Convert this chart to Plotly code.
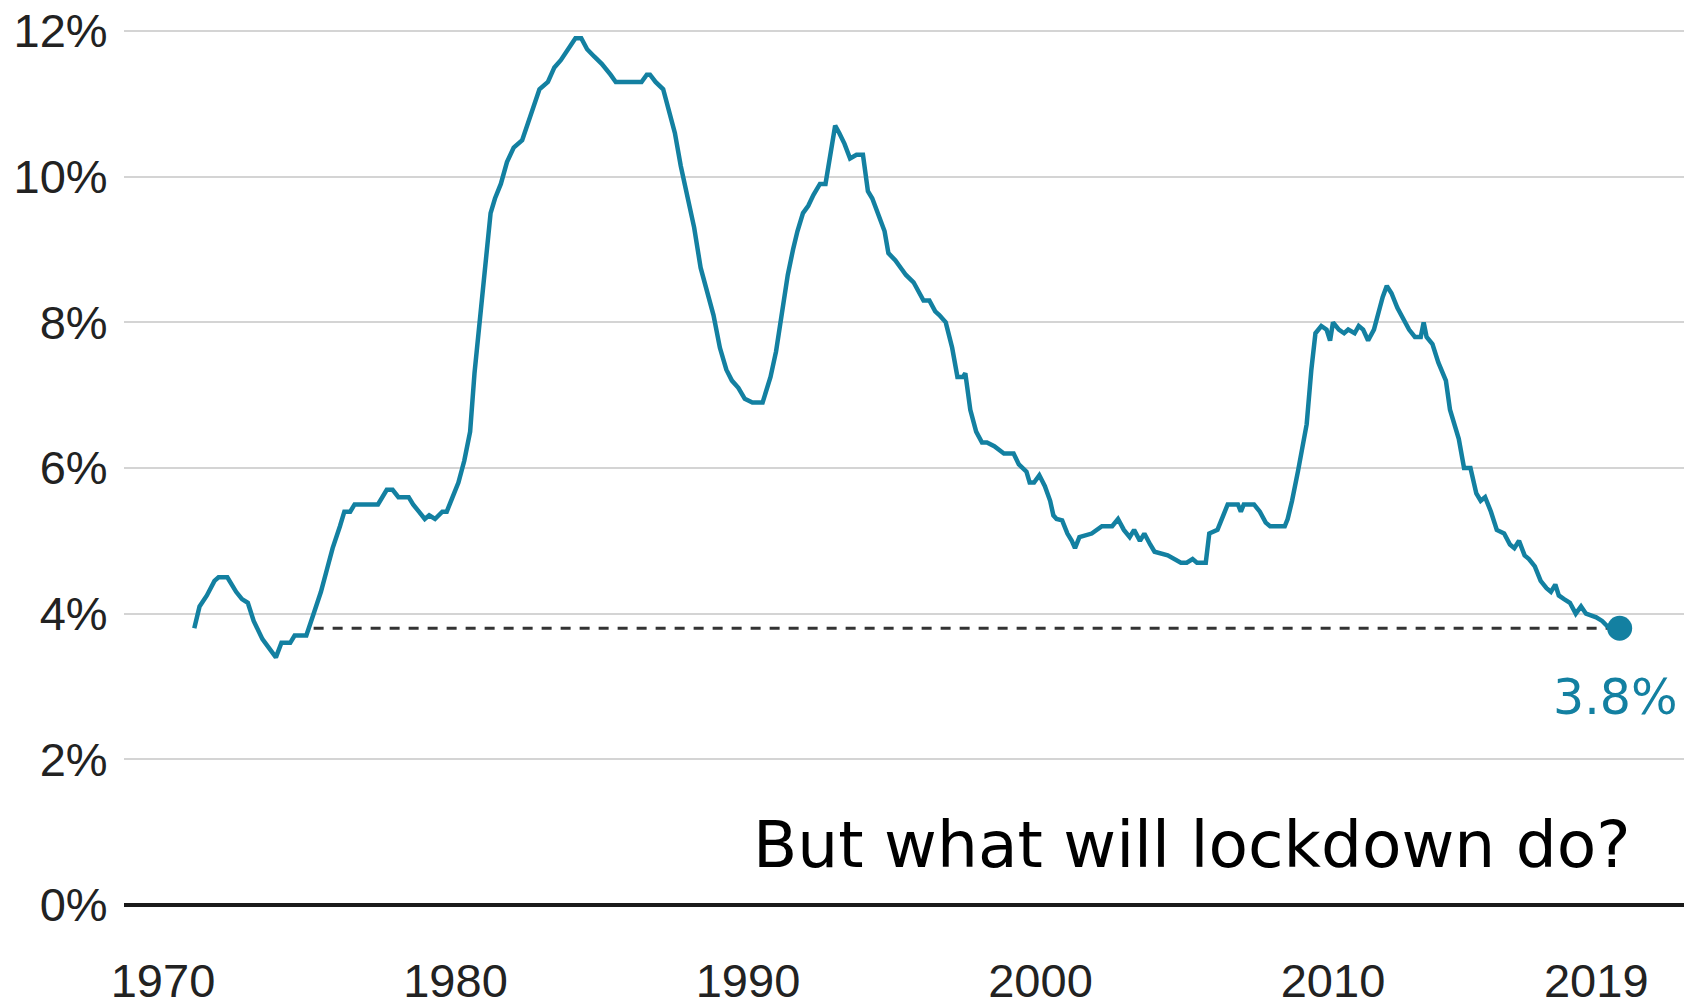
import plotly.graph_objects as go

# UK unemployment rate, % of the economically active (decimal year, rate)
years = [
    1971.07, 1971.25, 1971.50, 1971.76, 1971.90, 1972.20, 1972.50, 1972.70, 1972.90, 1973.10,
    1973.40, 1973.65, 1973.86, 1974.05, 1974.35, 1974.50, 1974.90, 1975.15, 1975.40, 1975.60,
    1975.80, 1976.05, 1976.20, 1976.40, 1976.55, 1977.35, 1977.55, 1977.65, 1977.85, 1978.05,
    1978.40, 1978.55, 1978.75, 1978.95, 1979.10, 1979.30, 1979.55, 1979.70, 1979.90, 1980.10,
    1980.30, 1980.50, 1980.65, 1980.85, 1981.05, 1981.20, 1981.35, 1981.55, 1981.76, 1981.99,
    1982.28, 1982.40, 1982.68, 1982.87, 1983.16, 1983.38, 1983.60, 1983.86, 1984.10, 1984.30,
    1984.50, 1984.74, 1985.00, 1985.30, 1985.48, 1986.36, 1986.54, 1986.65, 1986.84, 1987.10,
    1987.28, 1987.50, 1987.70, 1987.94, 1988.16, 1988.38, 1988.60, 1988.82, 1989.04, 1989.26,
    1989.45, 1989.67, 1989.89, 1990.15, 1990.50, 1990.77, 1990.96, 1991.14, 1991.36, 1991.54,
    1991.69, 1991.88, 1992.06, 1992.24, 1992.46, 1992.65, 1992.83, 1992.98, 1993.12, 1993.30,
    1993.49, 1993.71, 1993.93, 1994.10, 1994.25, 1994.45, 1994.67, 1994.80, 1995.04, 1995.22,
    1995.40, 1995.66, 1995.85, 1996.00, 1996.20, 1996.40, 1996.54, 1996.76, 1996.98, 1997.16,
    1997.35, 1997.43, 1997.60, 1997.80, 1998.00, 1998.17, 1998.42, 1998.60, 1998.75, 1999.08,
    1999.26, 1999.52, 1999.63, 1999.78, 1999.96, 2000.15, 2000.33, 2000.44, 2000.55, 2000.74,
    2000.92, 2001.07, 2001.18, 2001.33, 2001.75, 2002.10, 2002.45, 2002.65, 2002.85, 2003.05,
    2003.20, 2003.40, 2003.55, 2003.75, 2003.90, 2004.35, 2004.55, 2004.80, 2005.00, 2005.20,
    2005.35, 2005.65, 2005.77, 2006.05, 2006.25, 2006.40, 2006.75, 2006.85, 2006.95, 2007.30,
    2007.50, 2007.70, 2007.85, 2008.35, 2008.45, 2008.60, 2008.80, 2008.95, 2009.10, 2009.26,
    2009.40, 2009.60, 2009.78, 2009.90, 2010.00, 2010.20, 2010.38, 2010.52, 2010.74, 2010.88,
    2011.03, 2011.20, 2011.40, 2011.60, 2011.70, 2011.84, 2012.00, 2012.20, 2012.40, 2012.60,
    2012.80, 2013.00, 2013.10, 2013.20, 2013.40, 2013.60, 2013.86, 2014.00, 2014.30, 2014.48,
    2014.70, 2014.90, 2015.05, 2015.20, 2015.40, 2015.60, 2015.85, 2016.05, 2016.20, 2016.36,
    2016.55, 2016.70, 2016.90, 2017.10, 2017.30, 2017.45, 2017.60, 2017.72, 2017.90, 2018.10,
    2018.30, 2018.48, 2018.65, 2019.00, 2019.20, 2019.45, 2019.80,
]
rate = [
    3.8, 4.1, 4.25, 4.45, 4.5, 4.5, 4.3, 4.2, 4.15, 3.9,
    3.65, 3.5, 3.4, 3.6, 3.6, 3.7, 3.7, 4.0, 4.3, 4.6,
    4.9, 5.2, 5.4, 5.4, 5.5, 5.5, 5.65, 5.7, 5.7, 5.6,
    5.6, 5.5, 5.4, 5.3, 5.35, 5.3, 5.4, 5.4, 5.6, 5.8,
    6.1, 6.5, 7.3, 8.15, 8.9, 9.5, 9.7, 9.9, 10.2, 10.4,
    10.5, 10.65, 10.95, 11.2, 11.3, 11.5, 11.6, 11.75, 11.9, 11.9,
    11.75, 11.65, 11.55, 11.4, 11.3, 11.3, 11.4, 11.4, 11.3, 11.2,
    10.95, 10.6, 10.15, 9.7, 9.3, 8.75, 8.4, 8.1, 7.65, 7.35,
    7.2, 7.1, 6.95, 6.9, 6.9, 7.25, 7.6, 8.1, 8.65, 9.0,
    9.25, 9.5, 9.6, 9.75, 9.9, 9.9, 10.3, 10.7, 10.6, 10.45,
    10.25, 10.3, 10.3, 9.8, 9.7, 9.5, 9.25, 8.95, 8.85, 8.75,
    8.65, 8.55, 8.4, 8.3, 8.3, 8.15, 8.1, 8.0, 7.65, 7.25,
    7.25, 7.3, 6.8, 6.5, 6.35, 6.35, 6.3, 6.25, 6.2, 6.2,
    6.05, 5.95, 5.8, 5.8, 5.9, 5.75, 5.55, 5.35, 5.3, 5.28,
    5.1, 5.0, 4.9, 5.05, 5.1, 5.2, 5.2, 5.3, 5.15, 5.05,
    5.15, 5.0, 5.1, 4.95, 4.85, 4.8, 4.75, 4.7, 4.7, 4.75,
    4.7, 4.7, 5.1, 5.15, 5.35, 5.5, 5.5, 5.4, 5.5, 5.5,
    5.4, 5.25, 5.2, 5.2, 5.3, 5.55, 5.95, 6.3, 6.6, 7.35,
    7.85, 7.95, 7.9, 7.75, 8.0, 7.9, 7.85, 7.9, 7.85, 7.95,
    7.9, 7.75, 7.9, 8.2, 8.35, 8.5, 8.4, 8.2, 8.05, 7.9,
    7.8, 7.8, 8.0, 7.8, 7.7, 7.45, 7.2, 6.8, 6.4, 6.0,
    6.0, 5.65, 5.55, 5.6, 5.4, 5.15, 5.1, 4.95, 4.9, 5.0,
    4.8, 4.75, 4.65, 4.45, 4.35, 4.3, 4.4, 4.25, 4.2, 4.15,
    4.0, 4.1, 4.0, 3.95, 3.9, 3.8, 3.8,
]

latest_year = years[-1]
latest_rate = rate[-1]
reference_start = 1975.15  # the earlier date with the same rate

y_ticks = [0, 2, 4, 6, 8, 10, 12]
y_tick_text = ["0%", "2%", "4%", "6%", "8%", "10%", "12%"]
x_ticks = [1970, 1980, 1990, 2000, 2010, 2019]
x_tick_text = ["1970", "1980", "1990", "2000", "2010", "2019"]

teal = "#1380A1"

fig = go.Figure()

# dashed guide back to the last time the rate was this low
fig.add_trace(go.Scatter(
    x=[reference_start, latest_year], y=[latest_rate, latest_rate],
    mode="lines", line=dict(color="#333333", width=3, dash="10px,9px"),
    hoverinfo="skip", showlegend=False,
))

fig.add_trace(go.Scatter(
    x=years, y=rate, mode="lines",
    line=dict(color=teal, width=4.5),
    showlegend=False,
))

fig.add_trace(go.Scatter(
    x=[latest_year], y=[latest_rate], mode="markers",
    marker=dict(color=teal, size=25),
    showlegend=False,
))

fig.add_annotation(
    x=2019.67, y=2.85, text=f"{latest_rate:.1f}%", showarrow=False,
    xanchor="center", yanchor="middle",
    font=dict(family="DejaVu Sans", size=49, color=teal),
)

fig.add_annotation(
    x=1990.1, y=0.83, text="But what will lockdown do?", showarrow=False,
    xanchor="left", yanchor="middle",
    font=dict(family="DejaVu Sans", size=64.6, color="#000000"),
)

fig.update_layout(
    width=1684, height=1007,
    margin=dict(l=124, r=0, t=0, b=58),
    paper_bgcolor="white", plot_bgcolor="white",
    font=dict(family="Liberation Sans, Arial, sans-serif", size=47, color="#222222"),
    xaxis=dict(
        range=[1968.667, 2022.0],
        tickvals=x_ticks, ticktext=x_tick_text,
        showgrid=False, zeroline=False, showline=False,
        ticks="", fixedrange=True, automargin=False,
    ),
    yaxis=dict(
        range=[-0.604, 12.4255],
        tickvals=y_ticks, ticktext=y_tick_text,
        showgrid=True, gridcolor="#d4d4d4", gridwidth=2,
        zeroline=True, zerolinecolor="#1a1a1a", zerolinewidth=4,
        showline=False, ticks="outside", ticklen=6,
        tickcolor="rgba(0,0,0,0)", fixedrange=True, automargin=False,
    ),
)

fig.write_html("out.html", config={"displayModeBar": False})
